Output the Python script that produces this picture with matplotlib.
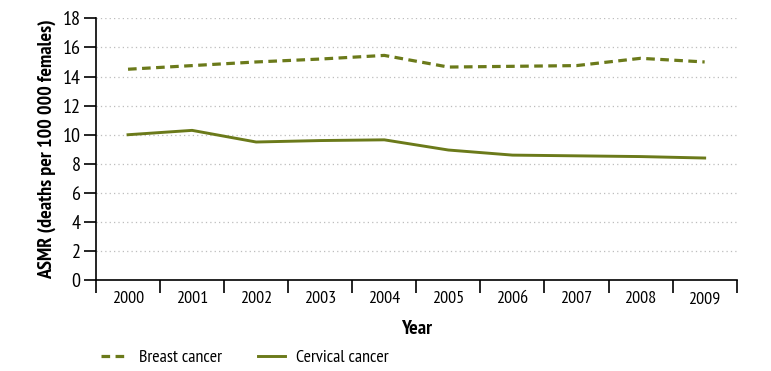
import matplotlib
matplotlib.use("Agg")
import matplotlib.pyplot as plt
from matplotlib.ticker import FixedLocator, MultipleLocator

years = ["2000", "2001", "2002", "2003", "2004", "2005", "2006", "2007", "2008", "2009"]
breast = [14.5, 14.75, 15.0, 15.2, 15.45, 14.65, 14.7, 14.75, 15.25, 15.0]
cervical = [10.0, 10.3, 9.5, 9.6, 9.65, 8.95, 8.6, 8.55, 8.5, 8.4]

OLIVE = "#6b7a1a"

plt.rcParams["font.family"] = ["PT Sans Narrow", "Asap Condensed", "DejaVu Sans"]

fig = plt.figure(figsize=(7.71, 3.71), dpi=100)
ax = fig.add_axes([0.1245, 0.2445, 0.831, 0.7062])

x = list(range(len(years)))
ax.plot(x, breast, color=OLIVE, linewidth=2.3, linestyle=(0, (2.7, 1.7)),
        label="Breast cancer")
ax.plot(x, cervical, color=OLIVE, linewidth=2.1, label="Cervical cancer")

ax.set_xlim(-0.5, len(years) - 0.5)
ax.set_ylim(0, 18)
ax.yaxis.set_major_locator(MultipleLocator(2))
for v in range(2, 19, 2):
    ax.axhline(v, color="#bdbdbd", linewidth=0.9, linestyle=(0, (1, 2.5)), zorder=0)

ax.set_xticks(x)
ax.set_xticklabels(years)
ax.xaxis.set_minor_locator(FixedLocator([i - 0.5 for i in range(len(years) + 1)]))
ax.tick_params(axis="x", which="major", length=0, pad=8, labelsize=13)
ax.tick_params(axis="x", which="minor", length=9, width=1.2, direction="out")
ax.tick_params(axis="y", length=9, width=1.2, direction="out", labelsize=14.5, pad=2)

for s in ["top", "right"]:
    ax.spines[s].set_visible(False)
ax.spines["left"].set_linewidth(1.2)
ax.spines["bottom"].set_linewidth(1.2)

ax.set_xlabel("Year", fontsize=14.5, fontweight="bold", labelpad=9)
ax.set_ylabel("ASMR (deaths per 100 000 females)", fontsize=14.5, fontweight="bold", labelpad=5)

fig.legend(loc="center left", bbox_to_anchor=(0.11, 1 - 358 / 371), ncol=2,
           frameon=False, fontsize=13, handlelength=1.5, columnspacing=2.0,
           handletextpad=0.6)

fig.savefig("out.png", dpi=100)
